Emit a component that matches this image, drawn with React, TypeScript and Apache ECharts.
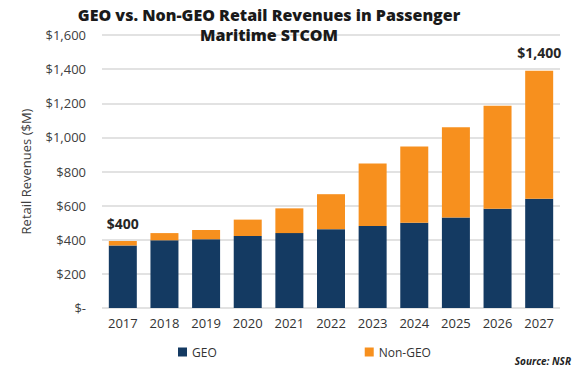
import React, { useEffect, useRef } from "react";
import * as echarts from "echarts";

const years = ["2017", "2018", "2019", "2020", "2021", "2022", "2023", "2024", "2025", "2026", "2027"];
const geo = [367, 397, 403, 422, 439, 462, 480, 500, 530, 581, 640];
const nonGeo = [25, 42, 54, 96, 145, 205, 367, 447, 529, 605, 750];
const totalLabels = ["$400", "", "", "", "", "", "", "", "", "", "$1,400"];
const yTicks = [0, 200, 400, 600, 800, 1000, 1200, 1400, 1600];

const FONT = "Open Sans";

export default function App() {
  const ref = useRef<HTMLDivElement>(null);
  useEffect(() => {
    if (!ref.current) return;
    const chart = echarts.init(ref.current, undefined, { renderer: "svg" });
    chart.setOption({
      animation: false,
      backgroundColor: "#ffffff",
      textStyle: { fontFamily: FONT },
      title: {
        text: "GEO vs. Non-GEO Retail Revenues in Passenger\nMaritime STCOM",
        left: 264,
        textAlign: "center",
        top: 0,
        textStyle: { fontFamily: FONT, fontWeight: 800, fontSize: 16, color: "#1a1a1a", lineHeight: 20 },
      },
      legend: {
        left: 173,
        top: 341,
        itemGap: 148,
        itemWidth: 9,
        itemHeight: 9,
        icon: "rect",
        textStyle: { fontFamily: FONT, fontSize: 12, color: "#333333" },
        data: ["GEO", "Non-GEO"],
      },
      graphic: [
        {
          type: "text",
          right: 5,
          top: 356,
          style: { text: "Source: NSR", fontFamily: FONT, fontSize: 10, fontStyle: "italic", fontWeight: "bold", fill: "#222222" },
        },
      ],
      grid: { left: 102, right: 16, top: 35, bottom: 72 },
      xAxis: {
        type: "category",
        data: years,
        axisLine: { show: false },
        axisTick: { show: false },
        axisLabel: { fontFamily: FONT, fontSize: 13, color: "#333333", margin: 8 },
      },
      yAxis: {
        type: "value",
        min: yTicks[0],
        max: yTicks[yTicks.length - 1],
        interval: 200,
        name: "Retail Revenues ($M)",
        nameLocation: "middle",
        nameGap: 70,
        nameTextStyle: { fontFamily: FONT, fontSize: 13, color: "#404040" },
        axisLine: { show: false },
        axisTick: { show: false },
        splitLine: { lineStyle: { color: "#d9d9d9", width: 1.5 } },
        axisLabel: {
          fontFamily: FONT,
          fontSize: 13,
          color: "#404040",
          margin: 16,
          formatter: (v: number) => (v === 0 ? "$-" : "$" + v.toLocaleString("en-US")),
        },
      },
      series: [
        {
          name: "GEO",
          type: "bar",
          stack: "total",
          data: geo,
          barWidth: 28,
          itemStyle: { color: "#143A62" },
        },
        {
          name: "Non-GEO",
          type: "bar",
          stack: "total",
          data: nonGeo,
          barWidth: 28,
          itemStyle: { color: "#F7901E" },
          label: {
            show: true,
            position: "top",
            distance: 11,
            fontFamily: FONT,
            fontSize: 14,
            fontWeight: "bold",
            color: "#262626",
            formatter: (p: any) => totalLabels[p.dataIndex],
          },
        },
      ],
    });
    return () => chart.dispose();
  }, []);
  return <div ref={ref} style={{ width: 576, height: 380, position: "absolute", left: 0, top: 0 }} />;
}
